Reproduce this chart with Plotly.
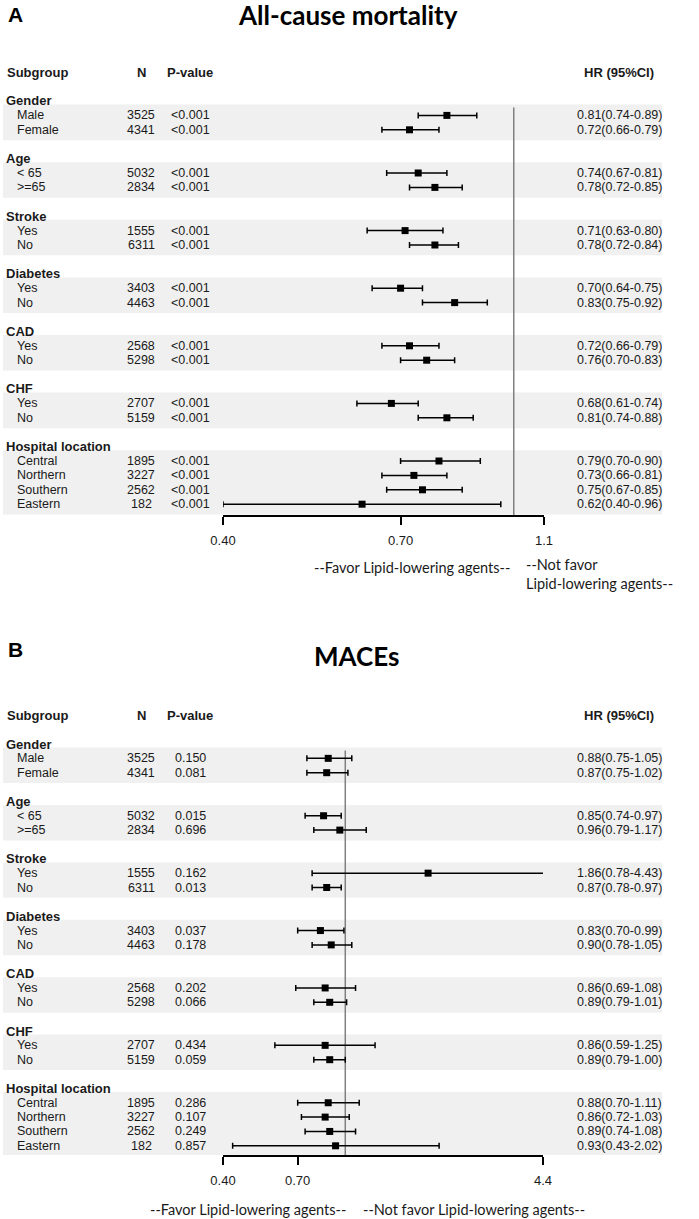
import numpy as np
import plotly.graph_objects as go

# ---- data ----
groups = ["Gender", "Age", "Stroke", "Diabetes", "CAD", "CHF", "Hospital location"]
group_sizes = [2, 2, 2, 2, 2, 2, 4]
subgroups = ["Male", "Female", "< 65", ">=65", "Yes", "No", "Yes", "No",
             "Yes", "No", "Yes", "No", "Central", "Northern", "Southern", "Eastern"]
n_counts = [3525, 4341, 5032, 2834, 1555, 6311, 3403, 4463,
            2568, 5298, 2707, 5159, 1895, 3227, 2562, 182]

# A: all-cause mortality
a_hr = [0.81, 0.72, 0.74, 0.78, 0.71, 0.78, 0.70, 0.83, 0.72, 0.76, 0.68, 0.81, 0.79, 0.73, 0.75, 0.62]
a_lo = [0.74, 0.66, 0.67, 0.72, 0.63, 0.72, 0.64, 0.75, 0.66, 0.70, 0.61, 0.74, 0.70, 0.66, 0.67, 0.40]
a_hi = [0.89, 0.79, 0.81, 0.85, 0.80, 0.84, 0.75, 0.92, 0.79, 0.83, 0.74, 0.88, 0.90, 0.81, 0.85, 0.96]
a_p = ["<0.001"] * 16
a_ticks = [0.4, 0.7, 1.1]
a_ticktext = ["0.40", "0.70", "1.1"]

# B: MACEs
b_hr = [0.88, 0.87, 0.85, 0.96, 1.86, 0.87, 0.83, 0.90, 0.86, 0.89, 0.86, 0.89, 0.88, 0.86, 0.89, 0.93]
b_lo = [0.75, 0.75, 0.74, 0.79, 0.78, 0.78, 0.70, 0.78, 0.69, 0.79, 0.59, 0.79, 0.70, 0.72, 0.74, 0.43]
b_hi = [1.05, 1.02, 0.97, 1.17, 4.43, 0.97, 0.99, 1.05, 1.08, 1.01, 1.25, 1.00, 1.11, 1.03, 1.08, 2.02]
b_p = ["0.150", "0.081", "0.015", "0.696", "0.162", "0.013", "0.037", "0.178",
       "0.202", "0.066", "0.434", "0.059", "0.286", "0.107", "0.249", "0.857"]
b_ticks = [0.4, 0.7, 4.4]
b_ticktext = ["0.40", "0.70", "4.4"]

W, H = 699, 1219
ARIAL = "Liberation Sans, Arial, sans-serif"
CALIBRI = "Lato, Open Sans, sans-serif"

# row layout: group header, items, blank row
head_rows, item_rows = [], []
r = 0
for g, k in zip(groups, group_sizes):
    head_rows.append(r)
    item_rows += list(range(r + 1, r + 1 + k))
    r += k + 2
last_row = item_rows[-1]

fig = go.Figure()
ann = []


def txt(x, y, s, yref, anchor="left", bold=False, size=12.5):
    ann.append(dict(x=x, y=y, xref="x", yref=yref, text=f"<b>{s}</b>" if bold else s,
                    showarrow=False, xanchor=anchor, yanchor="middle",
                    font=dict(family=ARIAL, size=size, color="#1a1a1a")))


def panel(yname, xname, hr, lo, hi, pv):
    yref = yname
    # shaded bands per group
    i = 0
    for g, k in zip(groups, group_sizes):
        rows = item_rows[i:i + k]
        fig.add_shape(type="rect", xref="x", yref=yref, x0=3, x1=662,
                      y0=rows[0] - 0.75, y1=rows[-1] + 0.72,
                      fillcolor="#f0f0f0", line_width=0, layer="below")
        i += k
    # header
    txt(5, -2, "Subgroup", yref, bold=True, size=13)
    txt(141, -2, "N", yref, "center", bold=True, size=13)
    txt(190, -2, "P-value", yref, "center", bold=True, size=13)
    txt(619, -2, "HR (95%CI)", yref, "center", bold=True, size=13)
    for g, rr in zip(groups, head_rows):
        txt(4, rr, g, yref, bold=True, size=13)
    for j, rr in enumerate(item_rows):
        txt(15, rr, subgroups[j], yref)
        txt(141, rr, str(n_counts[j]), yref, "center")
        txt(190, rr, pv[j], yref, "center")
        txt(619, rr, f"{hr[j]:.2f}({lo[j]:.2f}-{hi[j]:.2f})", yref, "center")
    # reference line at HR = 1
    fig.add_trace(go.Scatter(x=[1, 1], y=[0.45, last_row + 0.75], xaxis=xname, yaxis=yname,
                             mode="lines", line=dict(color="#808080", width=1.5),
                             hoverinfo="skip"))
    # estimates with CI
    fig.add_trace(go.Scatter(
        x=hr, y=item_rows, xaxis=xname, yaxis=yname, mode="markers",
        marker=dict(symbol="square", size=7, color="black"),
        error_x=dict(type="data", symmetric=False,
                     array=list(np.array(hi) - np.array(hr)),
                     arrayminus=list(np.array(hr) - np.array(lo)),
                     color="black", thickness=1.5, width=3),
        cliponaxis=False))


panel("y", "x2", a_hr, a_lo, a_hi, a_p)
panel("y2", "x3", b_hr, b_lo, b_hi, b_p)

# panel geometry (pixels)
A_top, A_bot, A_r0, pitch = 60, 515, 101, 14.4
B_top, B_bot, B_r0, pitchB = 700, 1155, 744, 14.35


def yrange(top, bot, r0, p):
    return [(bot - r0) / p, (top - r0) / p]


def xlog(domain, rng, tv, tt, anchor):
    return dict(type="log", domain=[domain[0] / W, domain[1] / W],
                range=[np.log10(rng[0]), np.log10(rng[1])], anchor=anchor,
                showline=True, linecolor="black", linewidth=2,
                ticks="outside", ticklen=8, tickwidth=2, tickcolor="black",
                tickvals=tv, ticktext=tt, ticklabelstandoff=4, automargin=False,
                tickfont=dict(family=ARIAL, size=13, color="#1a1a1a"),
                showgrid=False, zeroline=False)


fig.update_layout(
    template="none",
    width=W, height=H, margin=dict(l=0, r=0, t=0, b=0, pad=0), autosize=False,
    paper_bgcolor="white", plot_bgcolor="rgba(0,0,0,0)", showlegend=False,
    xaxis=dict(range=[0, W], domain=[0, 1], visible=False, anchor="y", automargin=False),
    yaxis=dict(domain=[1 - A_bot / H, 1 - A_top / H], range=yrange(A_top, A_bot, A_r0, pitch),
               visible=False, automargin=False),
    yaxis2=dict(domain=[1 - B_bot / H, 1 - B_top / H], range=yrange(B_top, B_bot, B_r0, pitchB),
                visible=False, anchor="x", automargin=False),
    xaxis2=xlog((223, 544), (0.4, 1.1), a_ticks, a_ticktext, "y"),
    xaxis3=xlog((223, 543), (0.4, 4.4), b_ticks, b_ticktext, "y2"),
)

# titles and footers
def ptxt(x, y, s, anchor, size, family, bold=True, yanchor="middle", align="left"):
    ann.append(dict(x=x / W, y=1 - y / H, xref="paper", yref="paper",
                    text=f"<b>{s}</b>" if bold else s, showarrow=False,
                    xanchor=anchor, yanchor=yanchor, align=align,
                    font=dict(family=family, size=size, color="black")))


ptxt(6, 15, "A", "left", 21, ARIAL)
ptxt(348, 15, "All-cause mortality", "center", 26, CALIBRI)
ptxt(6, 649, "B", "left", 21, ARIAL)
ptxt(356, 656, "MACEs", "center", 26, CALIBRI)

foot = dict(showarrow=False, yanchor="middle", font=dict(family=CALIBRI, size=14.5, color="#1a1a1a"))
ann.append(dict(x=0, y=1 - 567 / H, xref="x2", yref="paper", xanchor="right", xshift=-2,
                text="--Favor Lipid-lowering agents--", **foot))
ann.append(dict(x=0, y=1 - 574 / H, xref="x2", yref="paper", xanchor="left", xshift=10, align="left",
                text="--Not favor<br>Lipid-lowering agents--", **foot))
ann.append(dict(x=0, y=1 - 1209 / H, xref="x3", yref="paper", xanchor="right", xshift=3,
                text="--Favor Lipid-lowering agents--", **foot))
ann.append(dict(x=0, y=1 - 1209 / H, xref="x3", yref="paper", xanchor="left", xshift=16,
                text="--Not favor Lipid-lowering agents--", **foot))

fig.update_layout(annotations=ann)
fig.write_html("out.html", config={"displayModeBar": False},
               post_script="document.body.style.margin='0';")
